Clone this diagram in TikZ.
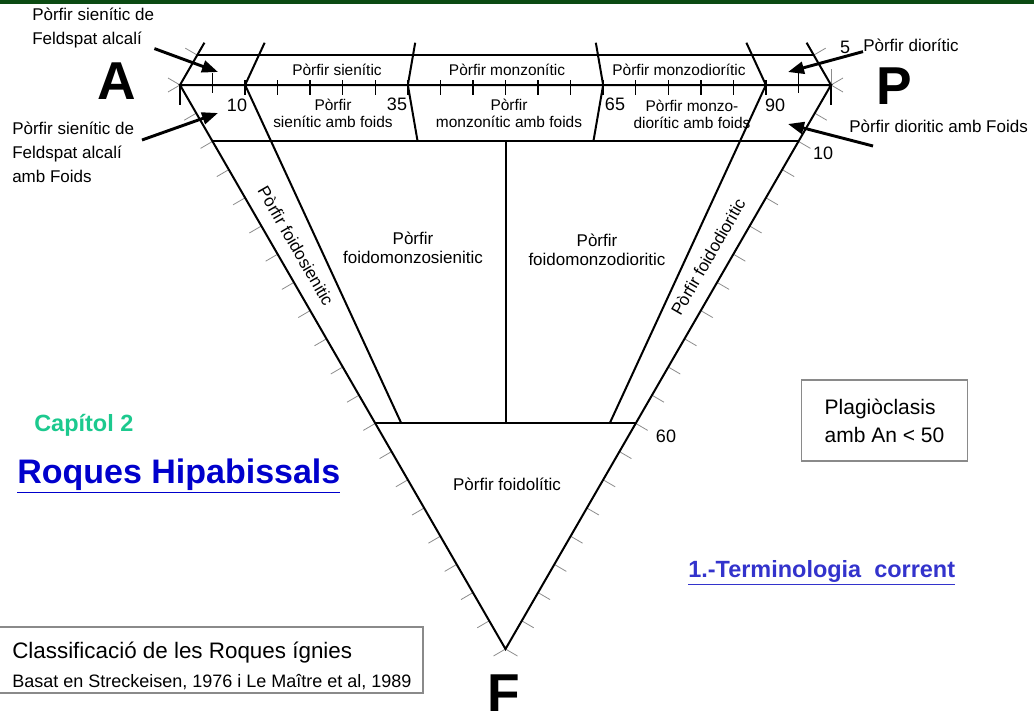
\documentclass[tikz,border=0pt]{standalone}
\usepackage{fontspec}
\setmainfont{Liberation Sans}
\usetikzlibrary{calc, arrows.meta, positioning}
\definecolor{barGreen}{HTML}{0B4A12}
\definecolor{capGreen}{HTML}{1CC98E}
\definecolor{linkBlue}{HTML}{0000CC}
\definecolor{termBlue}{HTML}{3333CC}
\definecolor{tickGray}{HTML}{8C8C8C}
\definecolor{boxGray}{HTML}{8A8A8A}

\begin{document}
\begin{tikzpicture}[
  x=0.75pt, y=-0.75pt,
  side/.style={line width=1.5pt, black},
  tk/.style={line width=1.1pt, black},
  gt/.style={line width=0.6pt, color=tickGray},
  arr/.style={-{Triangle[length=12pt,width=9pt]}, line width=2.2pt},
  lbl/.style={font=\fontsize{12.75}{18}\selectfont, align=left, inner sep=0pt},
  zone/.style={font=\fontsize{11.6}{12.75}\selectfont, align=center, inner sep=0pt},
  field/.style={font=\fontsize{12.75}{14.25}\selectfont, align=center, inner sep=0pt},
  num/.style={font=\fontsize{13.5}{15}\selectfont, inner sep=0pt},
  vtx/.style={font=\fontsize{40}{40}\selectfont\bfseries, inner sep=0pt}
]
\useasboundingbox (0,0) rectangle (1034,721);
\fill[barGreen] (0,0) rectangle (1034,4);

% vertices of the diagram
\coordinate (A) at (180,85);
\coordinate (P) at (831,85);
\coordinate (F) at (505.5,649);
\coordinate (Q) at (505.5,-479);
\coordinate (m10) at ($(A)!0.10!(P)$);
\coordinate (m35) at ($(A)!0.35!(P)$);
\coordinate (m50) at ($(A)!0.50!(P)$);
\coordinate (m65) at ($(A)!0.65!(P)$);
\coordinate (m90) at ($(A)!0.90!(P)$);

% gray ticks outside the sides
\foreach \k in {0,...,20} {
  \draw[gt] ($(A)!\k/20!(F)$) -- ++(-12,7);
  \draw[gt] ($(P)!\k/20!(F)$) -- ++(12,7);
}
\draw[gt] (A) -- ++(-12,-7);
\draw[gt] ($(A)!0.053!(Q)$) -- ++(-12,-7);
\draw[gt] (P) -- ++(12,-7);
\draw[gt] ($(P)!0.053!(Q)$) -- ++(12,-7);
\draw[gt] (P) -- ++(0,-16);

% triangle and fields
\draw[side] (A) -- (P) -- (F) -- cycle;
\draw[side] (A) -- ($(A)!0.075!(Q)$);
\draw[side] (P) -- ($(P)!0.075!(Q)$);
\draw[side] ($(A)!0.053!(Q)$) -- ($(P)!0.053!(Q)$);
\draw[side] ($(A)!0.1!(F)$) -- ($(P)!0.1!(F)$);
\draw[side] ($(A)!0.6!(F)$) -- ($(P)!0.6!(F)$);
\foreach \p in {m10,m35,m65,m90}
  \draw[side] (\p) -- ($(\p)!0.075!(Q)$);
\draw[side] (m10) -- ($(m10)!0.6!(F)$);
\draw[side] (m90) -- ($(m90)!0.6!(F)$);
\draw[side] (m35) -- ($(m35)!0.1!(F)$);
\draw[side] (m65) -- ($(m65)!0.1!(F)$);
\draw[side] ($(m50)!0.1!(F)$) -- ($(m50)!0.6!(F)$);

% ticks on A-P
\foreach \k in {2,...,18}
  \draw[tk] ($(A)!\k/20!(P)$) ++(0,-5) -- ++(0,15);
\foreach \k in {1,19}
  \draw[tk] ($(A)!\k/20!(P)$) ++(0,-12) -- ++(0,20);
\draw[tk] (A) -- ++(0,20);
\draw[tk] (P) -- ++(0,20);

% vertex letters
\node[vtx] (lA) at (117,81) {A};
\node[vtx] (lP) at (894,86) {P};
\node[vtx] (lF) at (504,693) {F};

% numbers
\node[num] (n10) at (237,105) {10};
\node[num] (n35) at (397,104) {35};
\node[num] (n65) at (615,104) {65};
\node[num] (n90) at (775,105) {90};
\node[num] (n5)  at (845,47) {5};
\node[num] (nf10) at (823,153) {10};
\node[num] (nf60) at (666,436) {60};

% strip labels
\node[zone] (zSien) at (337,70) {Pòrfir sienític};
\node[zone] (zMonz) at (507,70) {Pòrfir monzonític};
\node[zone] (zMzd)  at (679,70) {Pòrfir monzodiorític};
\node[zone] (zSienF) at (333,113) {Pòrfir\\sienític amb foids};
\node[zone] (zMonzF) at (509,113) {Pòrfir\\monzonític amb foids};
\node[zone] (zMzdF)  at (692,114) {Pòrfir monzo-\\diorític amb foids};

% fields
\node[field, rotate=-60] (fSien) at (296,246) {Pòrfir foidosienitic};
\node[field, rotate=60]  (fDior) at (708,257) {Pòrfir foidodioritic};
\node[field] (fMzs) at (413,248) {Pòrfir\\foidomonzosienitic};
\node[field] (fMzd) at (597,250) {Pòrfir\\foidomonzodioritic};
\node[field] (fFoid) at (507,484) {Pòrfir foidolític};

% side labels and arrows
\node[lbl, anchor=north west] (lblSA) at (32,8) {Pòrfir sienític de\\Feldspat alcalí};
\node[lbl, anchor=north west] (lblSAF) at (12,122) {Pòrfir sienític de\\Feldspat alcalí\\amb Foids};
\node[lbl, anchor=west] (lblPD) at (863,45) {Pòrfir diorític};
\node[lbl, anchor=west] (lblPDF) at (849,126) {Pòrfir dioritic amb Foids};
\coordinate (tipSA) at (218,72);
\coordinate (tipSAF) at (218,113);
\coordinate (tipPD) at (788,72);
\coordinate (tipPDF) at (788,124);
\coordinate (tailSAF) at (142,140);
\coordinate (tailPDF) at (873,146);
\draw[arr] (lblSA.south east) -- (tipSA);
\draw[arr] (tailSAF) -- (tipSAF);
\draw[arr] (lblPD.south west) -- (tipPD);
\draw[arr] (tailPDF) -- (tipPDF);

% titles and boxes
\node[font=\fontsize{17.6}{20}\selectfont\bfseries, text=capGreen, anchor=base west, inner sep=0pt]
  (cap) at (34,431) {Capítol 2};
\node[font=\fontsize{25.5}{28}\selectfont\bfseries, text=linkBlue, anchor=base west, inner sep=0pt]
  (titol) at (17,483) {\underline{Roques Hipabissals}};
\node[font=\fontsize{17.6}{20}\selectfont\bfseries, text=termBlue, anchor=base west, inner sep=0pt]
  (term) at (688,577) {\underline{1.-Terminologia~~corrent}};
\node[draw=boxGray, line width=0.8pt, minimum width=125pt, minimum height=60.75pt,
  font=\fontsize{15.75}{21}\selectfont, align=left] (plag) at (884.5,420.5) {Plagiòclasis\\amb An < 50};
\draw[boxGray, line width=0.8pt] (-2,627) rectangle (423,693);
\node[font=\fontsize{16.8}{18}\selectfont, anchor=base west, inner sep=0pt]
  (clsf1) at (12,658) {Classificació de les Roques ígnies};
\node[font=\fontsize{13.5}{15}\selectfont, anchor=base west, inner sep=0pt]
  (clsf2) at (12,687) {Basat en Streckeisen, 1976 i Le Maître et al, 1989};
\end{tikzpicture}
\end{document}
